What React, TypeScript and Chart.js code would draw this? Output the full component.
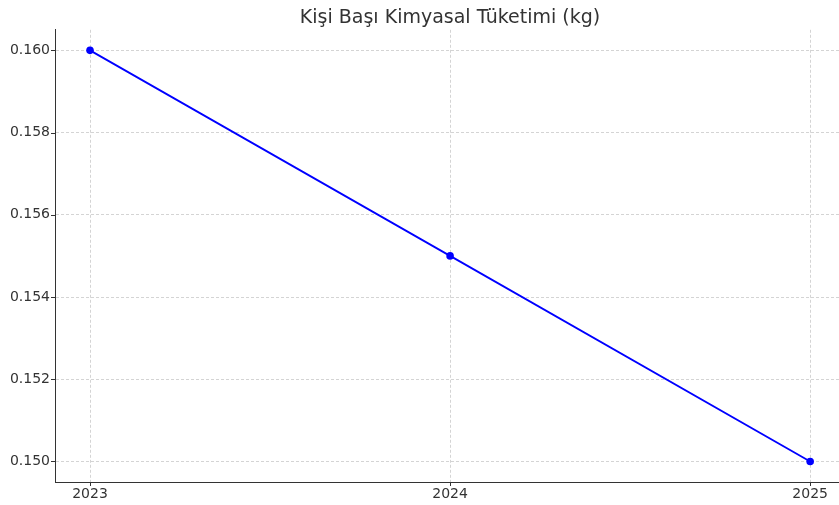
import React, { useEffect, useRef } from "react";
import { Chart, registerables } from "chart.js";

Chart.register(...registerables);

const titleText = "Kişi Başı Kimyasal Tüketimi (kg)";
const years = [2023, 2024, 2025];
const consumption = [0.16, 0.155, 0.15];
const yTicks = [0.15, 0.152, 0.154, 0.156, 0.158, 0.16];

const FONT = "'DejaVu Sans', sans-serif";

const tickMarks = {
  id: "tickMarks",
  afterDraw(chart: any) {
    const ctx = chart.ctx;
    const xs = chart.scales.x;
    const ys = chart.scales.y;
    const area = chart.chartArea;
    ctx.save();
    ctx.strokeStyle = "#333";
    ctx.lineWidth = 1;
    ctx.setLineDash([]);
    xs.ticks.forEach((t: any) => {
      const px = Math.round(xs.getPixelForValue(t.value)) + 0.5;
      ctx.beginPath();
      ctx.moveTo(px, area.bottom);
      ctx.lineTo(px, area.bottom + 4);
      ctx.stroke();
    });
    ys.ticks.forEach((t: any) => {
      const py = Math.round(ys.getPixelForValue(t.value)) + 0.5;
      ctx.beginPath();
      ctx.moveTo(area.left - 4, py);
      ctx.lineTo(area.left, py);
      ctx.stroke();
    });
    ctx.restore();
  },
};

export default function App() {
  const ref = useRef<HTMLCanvasElement | null>(null);
  useEffect(() => {
    if (!ref.current) return;
    const chart = new Chart(ref.current, {
      type: "line",
      data: {
        datasets: [
          {
            data: years.map((y, i) => ({ x: y, y: consumption[i] })),
            borderColor: "#0000ff",
            backgroundColor: "#0000ff",
            borderWidth: 1.8,
            pointRadius: 3.8,
            pointHoverRadius: 3.8,
            pointBorderWidth: 0,
            tension: 0,
          },
        ],
      },
      options: {
        responsive: false,
        animation: false,
        devicePixelRatio: 1,
        layout: { padding: 0 },
        plugins: {
          legend: { display: false },
          tooltip: { enabled: false },
          title: {
            display: true,
            text: titleText,
            color: "#333",
            font: { family: FONT, size: 19, weight: "normal" },
            padding: { top: 7, bottom: 0 },
          },
        },
        scales: {
          x: {
            type: "linear",
            min: 2022.9028,
            max: 2025.2389,
            afterBuildTicks: (s: any) => {
              s.ticks = years.map((v) => ({ value: v }));
            },
            afterFit: (s: any) => {
              s.height = 23;
            },
            ticks: {
              color: "#333",
              font: { family: FONT, size: 14 },
              padding: 4,
              maxRotation: 0,
              callback: (v: any) => String(v),
            },
            grid: { color: "#d4d4d4", lineWidth: 1, drawTicks: false },
            border: { display: true, color: "#333", width: 1, dash: [3, 2] },
          },
          y: {
            type: "linear",
            min: 0.1495,
            max: 0.1605,
            afterBuildTicks: (s: any) => {
              s.ticks = yTicks.map((v) => ({ value: v }));
            },
            afterFit: (s: any) => {
              s.width = 55;
            },
            ticks: {
              color: "#333",
              font: { family: FONT, size: 14 },
              padding: 5,
              callback: (v: any) => Number(v).toFixed(3),
            },
            grid: { color: "#d4d4d4", lineWidth: 1, drawTicks: false },
            border: { display: true, color: "#333", width: 1, dash: [3, 2] },
          },
        },
      },
      plugins: [tickMarks],
    });
    return () => chart.destroy();
  }, []);
  return (
    <div
      style={{
        position: "fixed",
        left: 0,
        top: 0,
        width: 839,
        height: 505,
        overflow: "hidden",
        background: "#fff",
      }}
    >
      <canvas ref={ref} width={900} height={505} style={{ display: "block" }} />
    </div>
  );
}
